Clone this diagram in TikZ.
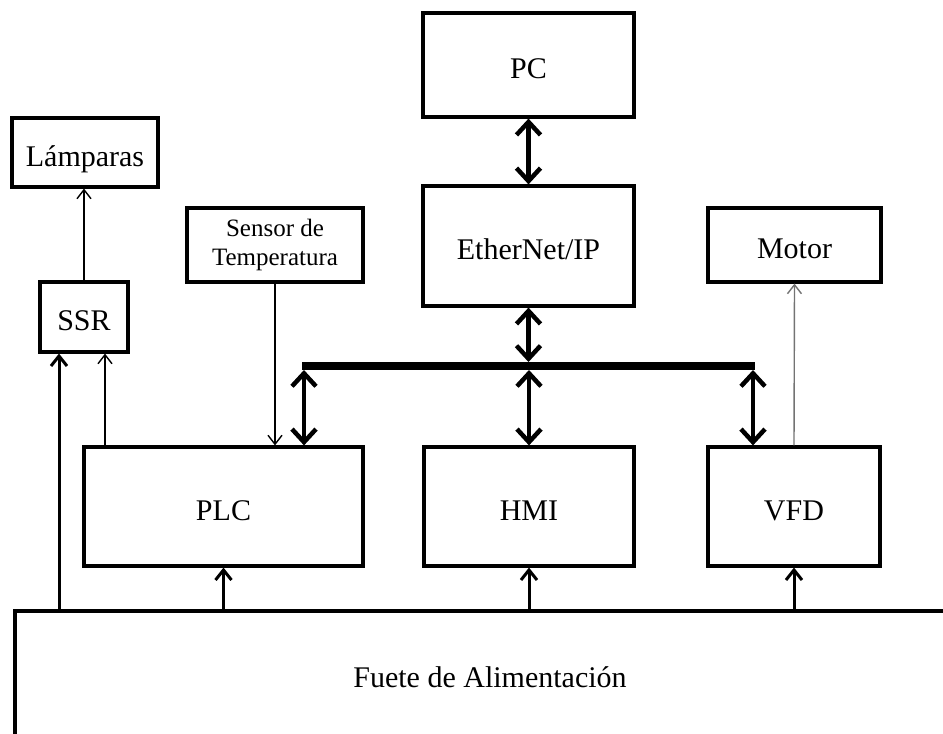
\documentclass[tikz,border=0pt]{standalone}
\usepackage{fontspec}
\setmainfont{Liberation Serif}
\usetikzlibrary{arrows.meta}
\begin{document}
\begin{tikzpicture}[x=1pt,y=-1pt,
  blk/.style={draw, line width=3.2pt, inner sep=0pt, align=center,
    text height=28pt, text depth=1pt,
    font=\fontsize{30}{35}\selectfont},
  small/.style={text height=, text depth=, font=\fontsize{25}{29}\selectfont},
  bidi/.style={line width=4.5pt,
    {Straight Barb[length=13pt,width=24pt]}-{Straight Barb[length=13pt,width=24pt]}},
  feed/.style={line width=3pt, -{Straight Barb[length=10pt,width=16pt]}},
  signal/.style={line width=1.4pt, -{Straight Barb[length=9pt,width=14pt]}},
  bus/.style={line width=8pt}]
\clip (0,0) rectangle (943,734);

% blocks
\node[blk, minimum width=211pt, minimum height=104pt] (pc) at (528.5,65) {PC};
\node[blk, minimum width=211pt, minimum height=120pt] (eth) at (528.5,246) {EtherNet/IP};
\node[blk, minimum width=146pt, minimum height=69pt] (lamp) at (85,152.5) {Lámparas};
\node[blk, minimum width=88pt, minimum height=70pt] (ssr) at (84,317) {SSR};
\node[blk, small, minimum width=176pt, minimum height=74pt] (sensor) at (275,245) {Sensor de\\Temperatura};
\node[blk, minimum width=173pt, minimum height=74pt] (motor) at (794.5,245) {Motor};
\node[blk, minimum width=279pt, minimum height=119pt] (plc) at (223.5,506.5) {PLC};
\node[blk, minimum width=210pt, minimum height=119pt] (hmi) at (529,506.5) {HMI};
\node[blk, minimum width=172pt, minimum height=119pt] (vfd) at (794,506.5) {VFD};
\node[blk, minimum width=950pt, minimum height=126pt] (psu) at (490,674) {Fuete de Alimentación};

% network bus
\coordinate (busL) at (304,366);
\coordinate (busR) at (753,366);
\draw[bus] ([xshift=-2pt]busL) -- ([xshift=2pt]busR);
\draw[bidi] (pc.south) -- (eth.north);
\draw[bidi] (eth.south) -- ([yshift=4pt]eth.south |- busL);
\draw[bidi] ([yshift=-4pt]busL) -- (busL |- plc.north);
\draw[bidi] ([yshift=-4pt]hmi.north |- busL) -- (hmi.north);
\draw[bidi] ([yshift=-4pt]busR) -- (busR |- vfd.north);

% power feeds
\coordinate (lx) at (59,0);
\coordinate (sx) at (105,0);
\draw[feed] (psu.north -| plc) -- (plc.south);
\draw[feed] (psu.north -| hmi) -- (hmi.south);
\draw[feed] (psu.north -| vfd) -- (vfd.south);
\draw[feed] (psu.north -| lx) -- (ssr.south -| lx);

% signal lines
\draw[signal] (plc.north -| sx) -- (ssr.south -| sx);
\draw[signal] (ssr.north) -- (ssr.north |- lamp.south);
\draw[signal] (sensor.south) -- (sensor.south |- plc.north);
\draw[signal, draw=black!55] (vfd.north) -- (motor.south);
\end{tikzpicture}
\end{document}
